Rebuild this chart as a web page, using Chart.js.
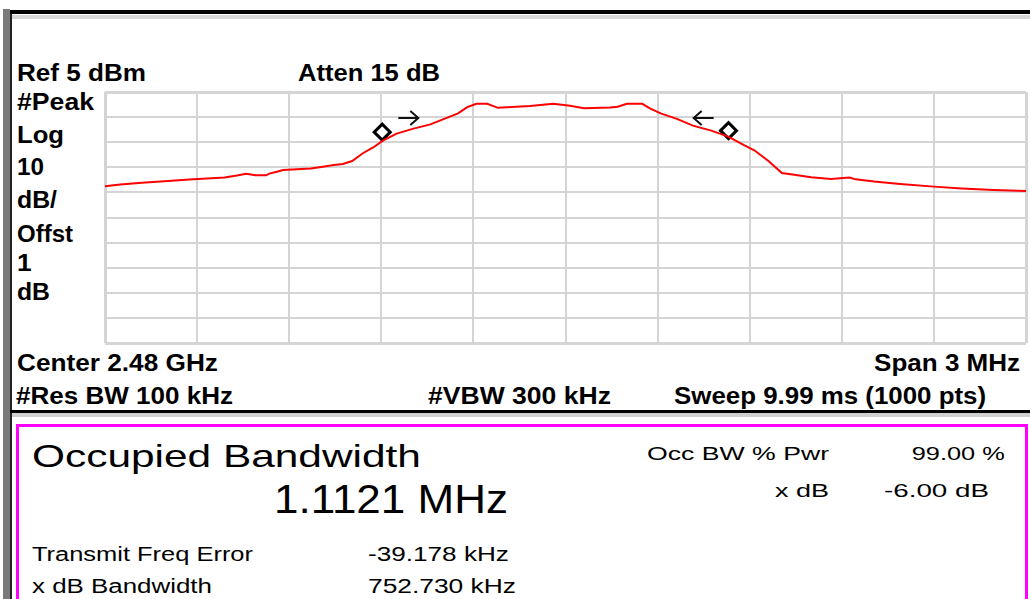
<!DOCTYPE html>
<html>
<head>
<meta charset="utf-8">
<script src="https://cdn.jsdelivr.net/npm/chart.js@4/dist/chart.umd.min.js"></script>
<style>
  html, body { margin: 0; padding: 0; background: #fff; }
  body { position: relative; width: 1030px; height: 599px; overflow: hidden; }
  .t { position: absolute; white-space: nowrap; line-height: 1; color: #000;
       font-family: Arial, "Liberation Sans", sans-serif; transform-origin: left top; }
  .b { font-weight: bold; font-size: 23px; transform: scaleX(1.14); }
  .r { transform-origin: right top; }
  .bar { position: absolute; }
  #plot { position: absolute; left: 100px; top: 87px; width: 930px; height: 261px; }
</style>
</head>
<body>

<!-- frame -->
<div class="bar" style="left:3px;top:9px;width:7px;height:590px;background:#7a7a7a"></div>
<div class="bar" style="left:10px;top:10px;width:2px;height:589px;background:#222"></div>
<div class="bar" style="left:10px;top:10px;width:1020px;height:4px;background:#000"></div>
<div class="bar" style="left:12px;top:15px;width:1018px;height:4px;background:#d6d6d6"></div>
<div class="bar" style="left:10px;top:410px;width:1020px;height:3px;background:#000"></div>
<div class="bar" style="left:12px;top:413px;width:1018px;height:4px;background:#d0d0d0"></div>
<div class="bar" style="left:16px;top:424px;width:1012px;height:200px;border:3px solid #ff00ff;box-sizing:border-box"></div>

<div id="plot"><canvas id="chartSpectrum"></canvas></div>

<!-- instrument settings -->
<div class="t b" data-w="129" style="left:17px;top:61.5px">Ref 5 dBm</div>
<div class="t b" data-w="142" style="left:298px;top:61.5px">Atten 15 dB</div>
<div class="t b" data-w="77" style="left:17px;top:91.2px">#Peak</div>
<div class="t b" data-w="47" style="left:17px;top:123.5px">Log</div>
<div class="t b" data-w="27" style="left:17px;top:156.2px">10</div>
<div class="t b" data-w="40" style="left:17px;top:188.5px">dB/</div>
<div class="t b" data-w="56" style="left:17px;top:223.2px">Offst</div>
<div class="t b" style="left:17px;top:252.2px">1</div>
<div class="t b" data-w="33" style="left:17px;top:280.5px">dB</div>
<div class="t b" data-w="201" style="left:17px;top:352.2px">Center 2.48 GHz</div>
<div class="t b r" data-w="146" style="right:10px;top:352.2px">Span 3 MHz</div>
<div class="t b" data-w="217" style="left:16px;top:384.5px">#Res BW 100 kHz</div>
<div class="t b" data-w="183" style="left:428px;top:384.5px">#VBW 300 kHz</div>
<div class="t b" data-w="312" style="left:674px;top:384.5px">Sweep 9.99 ms (1000 pts)</div>

<!-- measurement results -->
<div class="t" data-w="389" style="left:32px;top:439.9px;font-size:32px">Occupied Bandwidth</div>
<div class="t" data-w="234" style="left:274px;top:479.1px;font-size:40px">1.1121 MHz</div>
<div class="t" data-w="182" style="left:647px;top:443.9px;font-size:19px">Occ BW % Pwr</div>
<div class="t r" data-w="93" style="right:25px;top:443.9px;font-size:19px">99.00 %</div>
<div class="t r" data-w="54" style="right:201px;top:480.9px;font-size:19px">x dB</div>
<div class="t" data-w="105" style="left:884px;top:480.9px;font-size:19px">-6.00 dB</div>
<div class="t" data-w="221" style="left:32px;top:544.1px;font-size:20px">Transmit Freq Error</div>
<div class="t" data-w="141" style="left:368px;top:544.1px;font-size:20px">-39.178 kHz</div>
<div class="t" data-w="180" style="left:32px;top:576.1px;font-size:20px">x dB Bandwidth</div>
<div class="t" data-w="148" style="left:368px;top:576.1px;font-size:20px">752.730 kHz</div>

<script>
// Trace: offset from center frequency (kHz) and level (dBm)
const freqKHz = [-1500, -1450, -1380, -1295, -1225, -1110, -1070, -1040, -1010, -975,
                 -965, -940, -920, -830, -790, -755, -725, -695, -660, -625,
                 -595, -550, -495, -440, -385, -350, -320, -290, -255, -220,
                 -115, -40, -5, 15, 60, 145, 170, 200, 250, 275,
                 310, 365, 415, 475, 530, 580, 615, 660, 705, 745,
                 800, 865, 925, 945, 1005, 1090, 1200, 1290, 1395, 1500];
const levelDbm = [-32.6, -31.9, -31.2, -30.5, -29.9, -29.1, -28.3, -27.6, -28.2, -28.2,
                  -27.5, -26.8, -26.1, -25.5, -24.8, -24.1, -23.7, -22.5, -19.4, -17.0,
                  -14.4, -11.6, -9.6, -7.9, -5.2, -3.5, -1.0, 0.3, 0.3, -1.3,
                  -0.6, 0.3, -0.2, -0.5, -1.5, -1.2, -0.9, 0.3, 0.3, -1.5,
                  -3.5, -5.8, -8.4, -10.4, -12.8, -16.1, -18.2, -22.4, -27.3, -28.0,
                  -29.0, -29.7, -29.1, -29.8, -30.7, -31.7, -32.7, -33.4, -34.0, -34.4];

// OBW markers (diamonds) and their direction arrows
const markerKHz = [-597, 531];
const markerDbm = [-11.0, -10.4];
const arrowKHz = [-512, 450];
const arrowDbm = [-5.4, -5.4];
const arrowDir = [1, -1];

// Graticule: 3 MHz span, 10 dB/div from Ref 5 dBm
const xMin = -1500, xMax = 1500, xStep = 300;
const yMin = -95, yMax = 5, yStep = 10;

const gridColor = '#d4d4d4';

// draws the little arrows next to the markers
const arrowPlugin = {
    id: 'obwArrows',
    afterDatasetsDraw(chart) {
        const ctx = chart.ctx;
        const xs = chart.scales.x, ys = chart.scales.y;
        ctx.save();
        ctx.strokeStyle = '#111';
        ctx.lineWidth = 2;
        arrowKHz.forEach((f, i) => {
            const cx = xs.getPixelForValue(f);
            const cy = ys.getPixelForValue(arrowDbm[i]);
            const d = arrowDir[i];
            const tip = cx + d * 10;
            ctx.beginPath();
            ctx.moveTo(cx - d * 10, cy);
            ctx.lineTo(tip, cy);
            ctx.moveTo(tip - d * 8, cy - 7);
            ctx.lineTo(tip, cy);
            ctx.lineTo(tip - d * 8, cy + 7);
            ctx.stroke();
        });
        ctx.restore();
    }
};

function edgeWidth(ctx) {
    const n = ctx.scale.ticks.length;
    return (ctx.index === 0 || ctx.index === n - 1) ? 3 : 2;
}

function renderSpectrum() {
    const ctx = document.getElementById('chartSpectrum').getContext('2d');
    new Chart(ctx, {
        type: 'line',
        data: {
            datasets: [{
                label: 'Trace',
                data: freqKHz.map((f, i) => ({ x: f, y: levelDbm[i] })),
                borderColor: '#ff0000',
                borderWidth: 2,
                pointRadius: 0,
                tension: 0,
                fill: false
            }, {
                label: 'Markers',
                data: markerKHz.map((f, i) => ({ x: f, y: markerDbm[i] })),
                showLine: false,
                pointStyle: 'rectRot',
                pointRadius: 8,
                pointBorderWidth: 3,
                pointBorderColor: '#000',
                pointBackgroundColor: '#fff'
            }]
        },
        options: {
            responsive: true,
            maintainAspectRatio: false,
            animation: false,
            layout: { autoPadding: false, padding: { left: 5, top: 5, right: 4, bottom: 5 } },
            plugins: {
                legend: { display: false },
                tooltip: { enabled: false }
            },
            scales: {
                x: {
                    type: 'linear',
                    min: xMin, max: xMax,
                    ticks: { display: false, stepSize: xStep },
                    grid: { color: gridColor, lineWidth: edgeWidth, drawTicks: false },
                    border: { display: false }
                },
                y: {
                    min: yMin, max: yMax,
                    ticks: { display: false, stepSize: yStep },
                    grid: { color: gridColor, lineWidth: edgeWidth, drawTicks: false },
                    border: { display: false }
                }
            }
        },
        plugins: [arrowPlugin]
    });
}

// stretch each label horizontally to the width it has on the instrument screen
function fitLabels() {
    document.querySelectorAll('.t[data-w]').forEach(el => {
        el.style.transform = 'none';
        const w = el.getBoundingClientRect().width;
        el.style.transform = `scaleX(${(+el.dataset.w / w).toFixed(3)})`;
    });
}

renderSpectrum();
fitLabels();
</script>
</body>
</html>
